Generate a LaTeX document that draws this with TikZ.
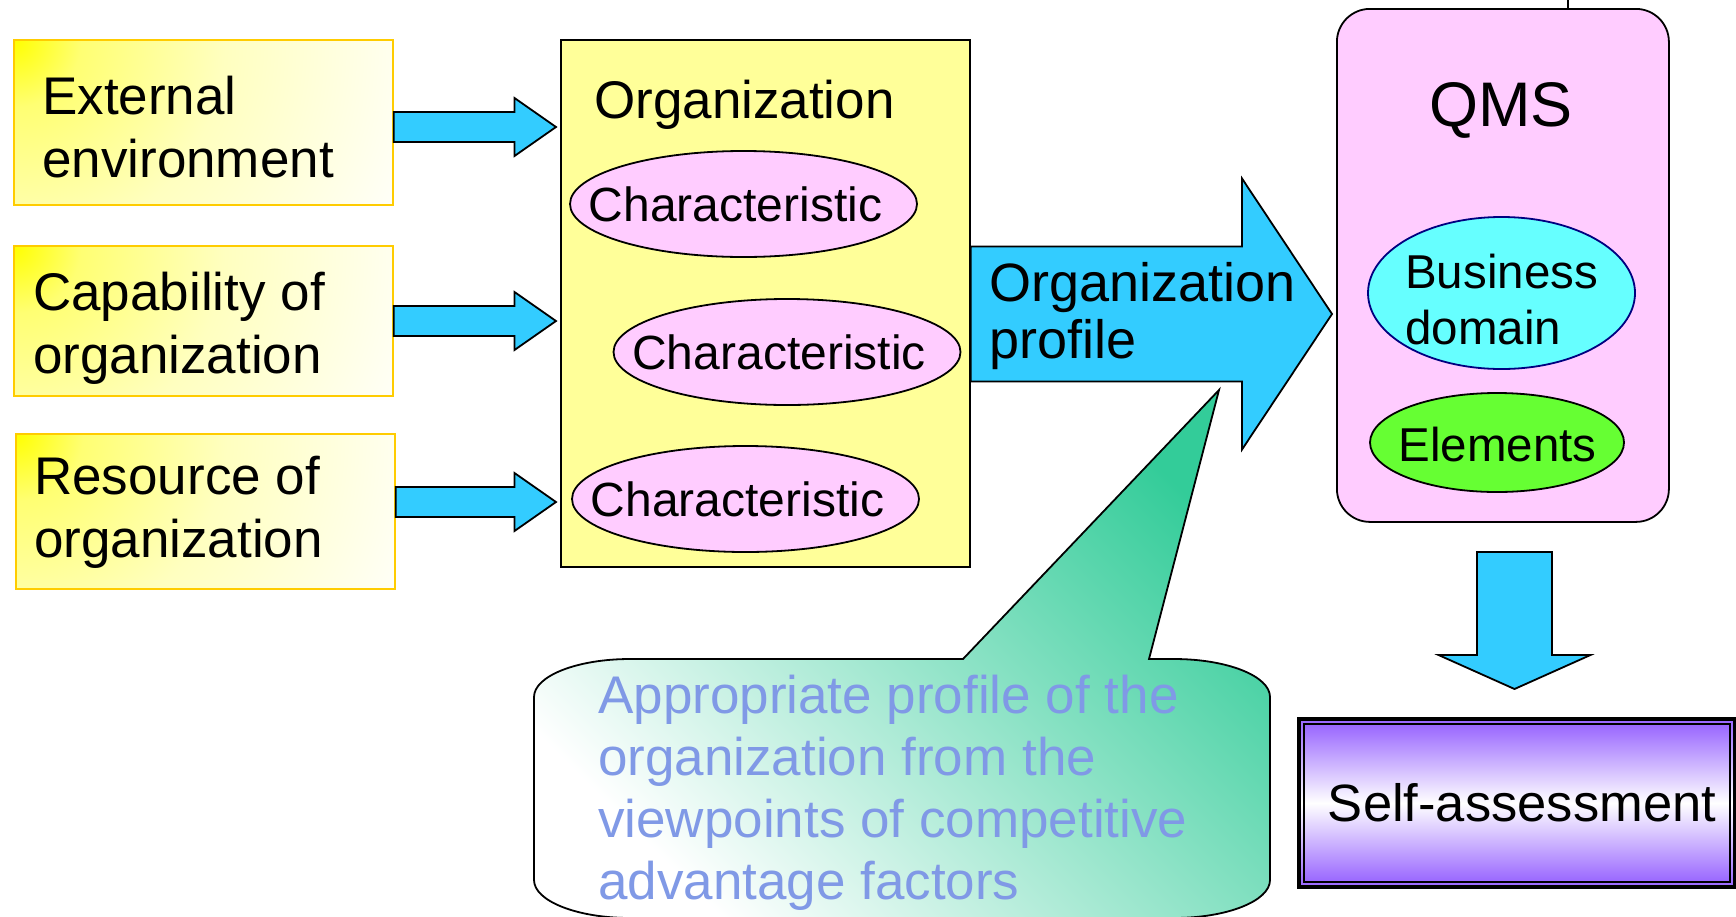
\documentclass[tikz,border=0pt]{standalone}
\usepackage{fontspec}
\setmainfont{Liberation Sans}
\usetikzlibrary{calc,shapes.geometric}

\definecolor{arrowblue}{HTML}{33CCFF}
\definecolor{boxgold}{HTML}{FFCC00}
\definecolor{orgyellow}{HTML}{FFFF99}
\definecolor{ovalpink}{HTML}{FFCCFF}
\definecolor{domaincyan}{HTML}{66FFFF}
\definecolor{domainedge}{HTML}{000080}
\definecolor{elemgreen}{HTML}{66FF33}
\definecolor{calloutgreen}{HTML}{33CC99}
\definecolor{notetext}{HTML}{8099E6}
\definecolor{assesspurple}{HTML}{9966FF}

% glow that fades out from a box corner
\pgfdeclareradialshading{cornerglow}{\pgfpoint{0bp}{0bp}}{%
  color(0bp)=(yellow); color(4bp)=(yellow!55); color(12.5bp)=(yellow!25);
  color(25bp)=(yellow!2); color(50bp)=(yellow!2)}

\newcommand\fsz[2]{\fontsize{#1}{#2}\selectfont}

% horizontal block arrow: tail node, tip coordinate, half shaft, half head, head length
\newcommand\rightblock[5]{%
  \draw[blockarrow] let \p1=(#1), \p2=(#2) in
    (\x1,\y2+#3pt) -- (\x2-#5pt,\y2+#3pt) -- (\x2-#5pt,\y2+#4pt) -- (\x2,\y2)
    -- (\x2-#5pt,\y2-#4pt) -- (\x2-#5pt,\y2-#3pt) -- (\x1,\y2-#3pt) -- cycle;}
% downward block arrow: tail coordinate, tip coordinate, half shaft, half head, head length
\newcommand\downblock[5]{%
  \draw[blockarrow] let \p1=(#1), \p2=(#2) in
    (\x2-#3pt,\y1) -- (\x2-#3pt,\y2+#5pt) -- (\x2-#4pt,\y2+#5pt) -- (\x2,\y2)
    -- (\x2+#4pt,\y2+#5pt) -- (\x2+#3pt,\y2+#5pt) -- (\x2+#3pt,\y1) -- cycle;}

\begin{document}
\begin{tikzpicture}[x=1pt,y=-1pt,
  outline/.style={draw=black, line width=1.8pt, line join=miter},
  blockarrow/.style={outline, fill=arrowblue},
  factorbox/.style={draw=boxgold, line width=1.8pt, inner sep=0pt, anchor=north west,
    fill=yellow!2,
    path picture={\shade[shading=cornerglow] (path picture bounding box.north west) circle (420pt);}},
  boxtext/.style={font=\fsz{53}{63}, align=left, inner sep=0pt, anchor=base west},
  charoval/.style={ellipse, outline, fill=ovalpink, inner sep=0pt,
    minimum width=347pt, minimum height=106pt},
  charlabel/.style={font=\fsz{48}{56}, inner sep=0pt, xshift=-8pt},
]
\useasboundingbox[fill=white] (0,0) rectangle (1736,916);

% input factors (text nodes are placed by the baseline of their last line)
\node[factorbox, minimum width=379pt, minimum height=165pt] (ext) at (13,39) {};
\node[boxtext] (ext-t) at (42,177) {External\\environment};
\node[factorbox, minimum width=379pt, minimum height=150pt] (cap) at (13,245) {};
\node[boxtext] (cap-t) at (33,373) {Capability of\\organization};
\node[factorbox, minimum width=379pt, minimum height=155pt] (res) at (15,433) {};
\node[boxtext] (res-t) at (34,557) {Resource of\\organization};

% organization with its characteristics
\node[outline, fill=orgyellow, inner sep=0pt, anchor=north west,
      minimum width=409pt, minimum height=527pt] (org) at (560,39) {};
\node[font=\fsz{53}{63}, inner sep=0pt, anchor=base west] (org-t) at (594,118) {Organization};
\node[charoval, label={[charlabel]center:Characteristic}] (ch1) at (743.5,204) {};
\node[charoval, label={[charlabel]center:Characteristic}] (ch2) at (787,352) {};
\node[charoval, label={[charlabel]center:Characteristic}] (ch3) at (745.5,499) {};

% arrows into the organization
\coordinate (tip1) at (556,127);
\coordinate (tip2) at (556,321);
\coordinate (tip3) at (556,502);
\rightblock{ext.east}{tip1}{15}{29}{41.5}
\rightblock{cap.east}{tip2}{15}{29}{41.5}
\rightblock{res.east}{tip3}{15}{29}{41.5}

% QMS
\coordinate (stub) at (1568,0);
\node[outline, fill=ovalpink, rounded corners=33pt, inner sep=0pt, anchor=north west,
      minimum width=332pt, minimum height=513pt] (qms) at (1336,8) {};
\draw[line width=1.8pt] (stub) -- (stub |- qms.north);
\node[font=\fsz{63}{70}, inner sep=0pt, anchor=base] (qms-t) at (1501,126) {QMS};
\node[ellipse, draw=domainedge, line width=1.8pt, fill=domaincyan, inner sep=0pt,
      minimum width=267pt, minimum height=152pt] (dom) at (1501.5,293) {};
\node[font=\fsz{47.5}{56}, align=left, inner sep=0pt, anchor=base west] (dom-t) at (1405,344) {Business\\domain};
\node[ellipse, outline, fill=elemgreen, inner sep=0pt,
      minimum width=254pt, minimum height=99pt] (elem) at (1497,442.5) {};
\node[font=\fsz{47.5}{56}, inner sep=0pt, anchor=base] (elem-t) at (1497.5,461) {Elements};

% organization profile arrow
\coordinate (tipP) at (1332,314);
\rightblock{org.east}{tipP}{67.5}{135.5}{90}
\node[font=\fsz{54}{57}, align=left, inner sep=0pt, anchor=base west] (prof-t) at (989,358) {Organization\\profile};

% self-assessment
\coordinate (dtail) at (1514.5,552);
\coordinate (dtip) at (1514.5,689);
\downblock{dtail}{dtip}{37.5}{76}{34}
\node[draw=black, line width=4pt, inner sep=0pt, anchor=north west,
      top color=assesspurple, bottom color=assesspurple, middle color=white,
      minimum width=436pt, minimum height=168pt] (self) at (1297,717) {};
\node[draw=black, line width=2pt, inner sep=0pt,
      top color=assesspurple, bottom color=assesspurple, middle color=white,
      minimum width=426pt, minimum height=158pt, font=\fsz{52.5}{60}] (self-in) at (self.center)
      {\hspace*{10pt}Self-assessment};

% callout
\draw[outline, top color=calloutgreen, bottom color=white, shading angle=-45]
  (963,659) -- (1219,390) -- (1149,659) -- (1174,659)
  arc[start angle=90, end angle=0, x radius=96pt, y radius=38pt] -- (1270,880)
  arc[start angle=0, end angle=-90, x radius=96pt, y radius=38pt] -- (630,918)
  arc[start angle=-90, end angle=-180, x radius=96pt, y radius=38pt] -- (534,697)
  arc[start angle=180, end angle=90, x radius=96pt, y radius=38pt] -- cycle;
\node[font=\fsz{53}{62}, text=notetext, align=left, inner sep=0pt, anchor=base west] (note-t)
  at (598,899) {Appropriate profile of the\\organization from the\\viewpoints of competitive\\advantage factors};
\end{tikzpicture}
\end{document}
